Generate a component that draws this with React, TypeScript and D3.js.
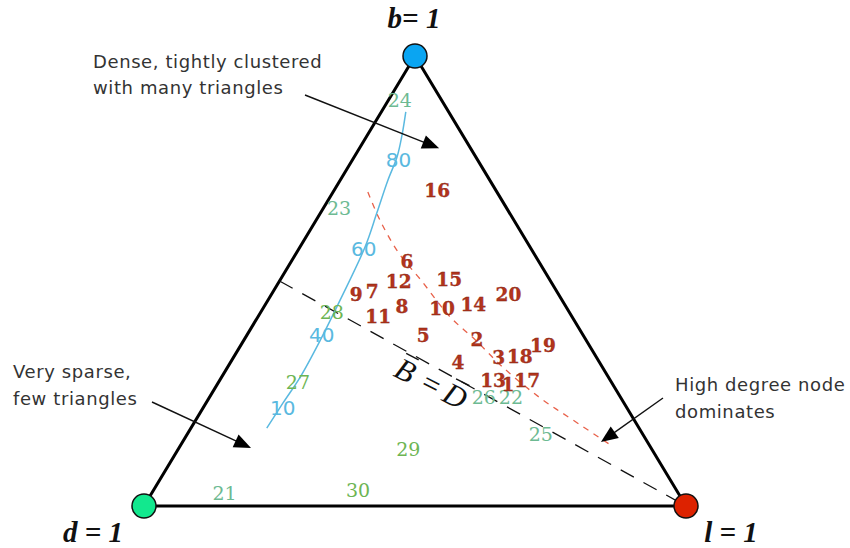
import React from 'react';
import * as d3 from 'd3';

// ternary coordinates: b (top), d (bottom-left), l (bottom-right)
type Node = { id: string; b: number; d: number; l: number };

const redNodes: Node[] = [
  { id: '16', b: 0.702, d: 0.108, l: 0.190 },
  { id: '6', b: 0.544, d: 0.243, l: 0.213 },
  { id: '12', b: 0.498, d: 0.281, l: 0.221 },
  { id: '15', b: 0.504, d: 0.185, l: 0.311 },
  { id: '9', b: 0.469, d: 0.374, l: 0.157 },
  { id: '7', b: 0.476, d: 0.341, l: 0.183 },
  { id: '20', b: 0.469, d: 0.093, l: 0.438 },
  { id: '8', b: 0.444, d: 0.302, l: 0.254 },
  { id: '10', b: 0.438, d: 0.231, l: 0.331 },
  { id: '14', b: 0.447, d: 0.169, l: 0.384 },
  { id: '11', b: 0.422, d: 0.357, l: 0.221 },
  { id: '5', b: 0.380, d: 0.295, l: 0.325 },
  { id: '2', b: 0.371, d: 0.200, l: 0.429 },
  { id: '4', b: 0.320, d: 0.261, l: 0.419 },
  { id: '3', b: 0.331, d: 0.180, l: 0.489 },
  { id: '18', b: 0.333, d: 0.140, l: 0.527 },
  { id: '19', b: 0.356, d: 0.086, l: 0.558 },
  { id: '13', b: 0.280, d: 0.216, l: 0.504 },
  { id: '1', b: 0.271, d: 0.193, l: 0.536 },
  { id: '17', b: 0.278, d: 0.154, l: 0.568 },
];

const tealNodes: Node[] = [
  { id: '24', b: 0.902, d: 0.077, l: 0.021 },
  { id: '23', b: 0.662, d: 0.309, l: 0.029 },
  { id: '21', b: 0.029, d: 0.837, l: 0.134 },
  { id: '26', b: 0.242, d: 0.252, l: 0.506 },
  { id: '22', b: 0.242, d: 0.202, l: 0.556 },
  { id: '25', b: 0.160, d: 0.188, l: 0.652 },
];

const greenNodes: Node[] = [
  { id: '28', b: 0.431, d: 0.438, l: 0.131 },
  { id: '27', b: 0.276, d: 0.578, l: 0.146 },
  { id: '29', b: 0.127, d: 0.449, l: 0.424 },
  { id: '30', b: 0.036, d: 0.587, l: 0.377 },
];

const blueLabels: Node[] = [
  { id: '80', b: 0.769, d: 0.146, l: 0.085 },
  { id: '60', b: 0.571, d: 0.309, l: 0.120 },
  { id: '40', b: 0.380, d: 0.482, l: 0.138 },
  { id: '10', b: 0.218, d: 0.635, l: 0.147 },
];

// blue curve (b, l pairs)
const blueCurveB = [0.173, 0.229, 0.287, 0.369, 0.458, 0.576, 0.651, 0.724, 0.776, 0.824, 0.876];
const blueCurveL = [0.140, 0.142, 0.145, 0.141, 0.133, 0.120, 0.104, 0.088, 0.079, 0.064, 0.045];

// red dashed curve
const redCurveB = [0.698, 0.636, 0.564, 0.502, 0.420, 0.369, 0.309, 0.240, 0.191, 0.131];
const redCurveL = [0.064, 0.117, 0.187, 0.260, 0.355, 0.427, 0.507, 0.611, 0.696, 0.801];

const W = 850;
const H = 548;

const X = d3.scaleLinear().domain([0, 1]).range([144, 686]);
const Y = d3.scaleLinear().domain([0, 1]).range([506, 56]);

const proj = (b: number, l: number): [number, number] => [X(l + b / 2), Y(b)];

const line = d3.line<[number, number]>().curve(d3.curveCatmullRom);

const arrowHead = (x1: number, y1: number, x2: number, y2: number, len = 17, half = 7) => {
  const a = Math.atan2(y2 - y1, x2 - x1);
  const bx = x2 - len * Math.cos(a);
  const by = y2 - len * Math.sin(a);
  const px = -Math.sin(a) * half;
  const py = Math.cos(a) * half;
  return `M${x2},${y2}L${bx + px},${by + py}L${bx - px},${by - py}Z`;
};

const Arrow = ({ x1, y1, x2, y2 }: { x1: number; y1: number; x2: number; y2: number }) => {
  const a = Math.atan2(y2 - y1, x2 - x1);
  return (
    <g>
      <line x1={x1} y1={y1} x2={x2 - 12 * Math.cos(a)} y2={y2 - 12 * Math.sin(a)} stroke="#111" strokeWidth={1.4} />
      <path d={arrowHead(x1, y1, x2, y2)} fill="#000" />
    </g>
  );
};

export default function App() {
  const vB = proj(1, 0);
  const vD = proj(0, 0);
  const vL = proj(0, 1);
  const mid = proj(0.5, 0);
  const tipDense = proj(0.795, 0.147);
  const tipSparse = proj(0.129, 0.133);
  const tipHigh = proj(0.142, 0.772);

  const blueCurve = blueCurveB.map((b, i) => proj(b, blueCurveL[i]));
  const redCurve = redCurveB.map((b, i) => proj(b, redCurveL[i]));

  const annFont = { fontFamily: '"DejaVu Sans", sans-serif', fontSize: 18, letterSpacing: 0.6, fill: '#333' };
  const vertexFont = { fontFamily: '"Liberation Serif", serif', fontSize: 29, fontWeight: 700, fontStyle: 'italic' as const, fill: '#111' };
  const bdFont = { fontFamily: '"Liberation Serif", serif', fontSize: 31, fontStyle: 'italic' as const, fill: '#111' };

  return (
    <svg width={W} height={H} style={{ position: 'absolute', left: 0, top: 0, background: '#fff' }}>
      {/* triangle */}
      <path d={`M${vB[0]},${vB[1]}L${vD[0]},${vD[1]}L${vL[0]},${vL[1]}Z`} fill="none" stroke="#000" strokeWidth={3} strokeLinejoin="round" />

      {/* B = D line */}
      <line x1={mid[0]} y1={mid[1]} x2={vL[0]} y2={vL[1]} stroke="#111" strokeWidth={1.3} strokeDasharray="15,11" />

      {/* red dashed curve */}
      <path d={line(redCurve) || ''} fill="none" stroke="#e8614a" strokeWidth={1.3} strokeDasharray="6,6" />

      {/* blue curve */}
      <path d={line(blueCurve) || ''} fill="none" stroke="#5ab9e0" strokeWidth={1.5} />

      {/* blue labels */}
      {blueLabels.map((n) => {
        const [x, y] = proj(n.b, n.l);
        return (
          <text key={'bl' + n.id} x={x} y={y} textAnchor="middle" dominantBaseline="central"
            style={{ fontFamily: '"DejaVu Sans", sans-serif', fontSize: 20, fill: '#5ab9e0' }}>{n.id}</text>
        );
      })}

      {/* green / teal labels */}
      {tealNodes.map((n) => {
        const [x, y] = proj(n.b, n.l);
        return (
          <text key={'t' + n.id} x={x} y={y} textAnchor="middle" dominantBaseline="central"
            style={{ fontFamily: '"DejaVu Serif", serif', fontSize: 19, fill: '#6dba92' }}>{n.id}</text>
        );
      })}
      {greenNodes.map((n) => {
        const [x, y] = proj(n.b, n.l);
        return (
          <text key={'g' + n.id} x={x} y={y} textAnchor="middle" dominantBaseline="central"
            style={{ fontFamily: '"DejaVu Serif", serif', fontSize: 19, fill: '#6db553' }}>{n.id}</text>
        );
      })}

      {/* red labels */}
      {redNodes.map((n) => {
        const [x, y] = proj(n.b, n.l);
        return (
          <text key={'r' + n.id} x={x} y={y} textAnchor="middle" dominantBaseline="central"
            style={{ fontFamily: '"DejaVu Serif", serif', fontSize: 18.5, fontWeight: 700, fill: '#b3341c', stroke: '#7a1e0e', strokeWidth: 0.3 }}>{n.id}</text>
        );
      })}

      {/* B = D label */}
      <g transform="translate(431,384) rotate(27)">
        <text x={-29} y={10} textAnchor="middle" style={bdFont}>B</text>
        <text x={0} y={10} textAnchor="middle" style={bdFont}>=</text>
        <text x={27} y={10} textAnchor="middle" style={bdFont}>D</text>
        <line x1={-36} x2={-22} y1={-16} y2={-16} stroke="#111" strokeWidth={1.4} />
        <line x1={20} x2={35} y1={-16} y2={-16} stroke="#111" strokeWidth={1.4} />
      </g>

      {/* annotations */}
      <text x={93} y={68} style={annFont}>Dense, tightly clustered</text>
      <text x={93} y={94} style={annFont}>with many triangles</text>
      <Arrow x1={305} y1={95} x2={tipDense[0]} y2={tipDense[1]} />

      <text x={13} y={378} style={annFont}>Very sparse,</text>
      <text x={13} y={405} style={annFont}>few triangles</text>
      <Arrow x1={152} y1={402} x2={tipSparse[0]} y2={tipSparse[1]} />

      <text x={675} y={391} style={annFont}>High degree node</text>
      <text x={675} y={418} style={annFont}>dominates</text>
      <Arrow x1={663} y1={398} x2={tipHigh[0]} y2={tipHigh[1]} />

      {/* vertices */}
      <circle cx={vB[0]} cy={vB[1]} r={12} fill="#0aa5f2" stroke="#111" strokeWidth={1.5} />
      <circle cx={vD[0]} cy={vD[1]} r={12} fill="#12e88e" stroke="#111" strokeWidth={1.5} />
      <circle cx={vL[0]} cy={vL[1]} r={12} fill="#dd2200" stroke="#111" strokeWidth={1.5} />

      <text x={414} y={28} textAnchor="middle" style={vertexFont}>b= 1</text>
      <text x={93} y={542} textAnchor="middle" style={vertexFont}>d = 1</text>
      <text x={731} y={542} textAnchor="middle" style={vertexFont}>l = 1</text>
    </svg>
  );
}
